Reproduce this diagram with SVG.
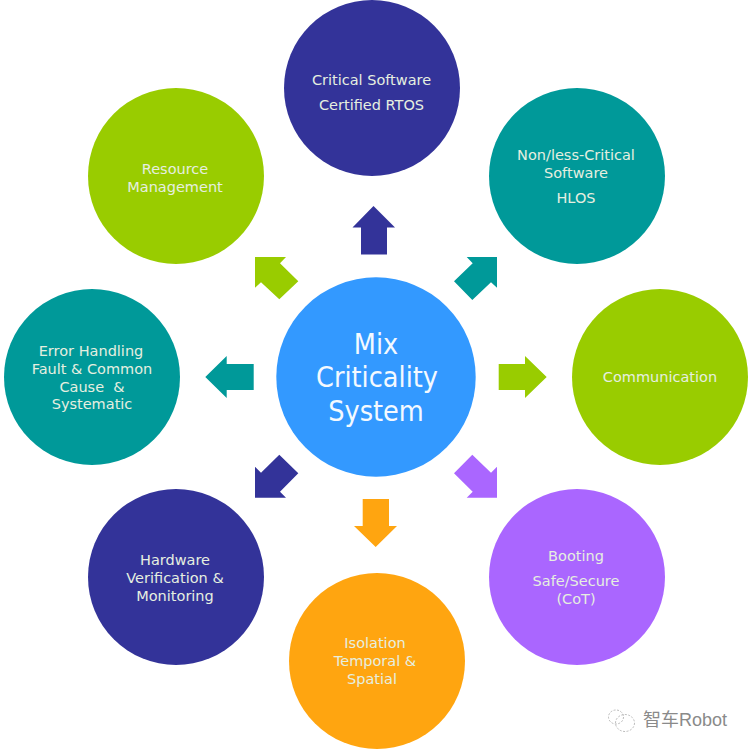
<svg xmlns="http://www.w3.org/2000/svg" width="753" height="753" viewBox="0 0 753 753">
<style>
text{font-family:"DejaVu Sans","Liberation Sans",sans-serif;fill:#e6efe0;font-size:14.5px;text-anchor:middle}
.c{font-size:28.500px;font-stretch:condensed;fill:#f4f9ff}
.wm{font-family:"Liberation Sans","Noto Sans CJK SC",sans-serif;font-size:18px;fill:#8a8a8a}
</style>
<rect width="753" height="753" fill="#fff"/>
<g id="connectors">
<polygon fill="#333399" points="373.5,206 395,227.5 387,227.5 387,254.5 361,254.5 361,227.5 352.5,227.5"/>
<polygon fill="#009999" points="466.7,257 497,257 497,287.7 491,282.3 472.3,300 454,281.3 472.7,263.3"/>
<polygon fill="#99cc00" points="546.7,377 525,398 525,390 498.7,390 498.7,364 525,364 525,356"/>
<polygon fill="#aa66ff" points="497,497.7 466.7,497.7 472.7,491.7 454,473.3 472.3,454.7 491,472.7 497,466.7"/>
<polygon fill="#ffa510" points="375.7,547 354,526 362.7,526 362.7,499 389,499 389,526 397,526"/>
<polygon fill="#333399" points="255,497.7 286,497.7 280,491.7 298.3,473.3 279.3,454.7 261,472.7 255,466.7"/>
<polygon fill="#009999" points="205.3,377 226.7,356 226.7,364 253.7,364 253.7,390 226.7,390 226.7,398"/>
<polygon fill="#99cc00" points="255,257 286,257 280,263.3 298.3,281.3 279.3,299.3 261,282.3 255,287.7"/>
</g>
<g id="center"><circle cx="376" cy="377" r="99.7" fill="#3399ff"/><text class="c" x="376" y="354">Mix</text><text class="c" x="377" y="387">Criticality</text><text class="c" x="376" y="420.500">System</text></g>
<g id="critical"><circle cx="372" cy="88" r="88" fill="#333399"/><text x="371.500" y="85">Critical Software</text><text x="371.500" y="110">Certified RTOS</text></g>
<g id="nonCritical"><circle cx="577" cy="176" r="88" fill="#009999"/><text x="576" y="160">Non/less-Critical</text><text x="576" y="178">Software</text><text x="576" y="203">HLOS</text></g>
<g id="communication"><circle cx="660" cy="377" r="88" fill="#99cc00"/><text x="660" y="382">Communication</text></g>
<g id="booting"><circle cx="577" cy="577" r="88" fill="#aa66ff"/><text x="576" y="561">Booting</text><text x="576" y="586">Safe/Secure</text><text x="576" y="604">(CoT)</text></g>
<g id="isolation"><circle cx="377" cy="661" r="88" fill="#ffa510"/><text x="375" y="648">Isolation</text><text x="375" y="666">Temporal &amp;</text><text x="372" y="684">Spatial</text></g>
<g id="hardware"><circle cx="176" cy="577" r="88" fill="#333399"/><text x="175" y="565">Hardware</text><text x="175" y="583">Verification &amp;</text><text x="175" y="601">Monitoring</text></g>
<g id="error"><circle cx="92" cy="377" r="88" fill="#009999"/><text x="91" y="356">Error Handling</text><text x="92" y="374">Fault &amp; Common</text><text x="92" y="391.500" xml:space="preserve">Cause  &amp;</text><text x="92" y="409">Systematic</text></g>
<g id="resource"><circle cx="176" cy="176" r="88" fill="#99cc00"/><text x="175" y="173.500">Resource</text><text x="175" y="191.500">Management</text></g>
<g id="watermark"><g fill="none" stroke="#aaa" stroke-width=".8" stroke-dasharray="2 1.500"><ellipse cx="625" cy="723" rx="9.500" ry="8.500"/><ellipse cx="616" cy="717" rx="7.500" ry="7"/></g><text class="wm" x="685" y="726">智车Robot</text></g>
</svg>
